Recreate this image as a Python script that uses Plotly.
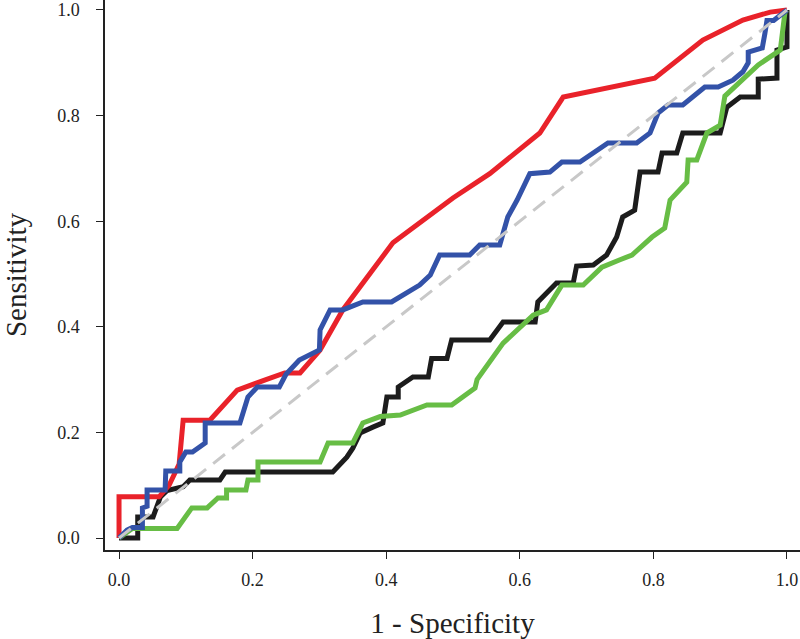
import plotly.graph_objects as go

red_x = [0, 0, 0.06, 0.075, 0.09, 0.096, 0.136, 0.177, 0.22, 0.248, 0.271, 0.301, 0.335, 0.41, 0.5, 0.555, 0.63, 0.665, 0.802, 0.874, 0.934, 0.975, 1.0]
red_y = [0, 0.078, 0.078, 0.1, 0.14, 0.223, 0.223, 0.28, 0.30, 0.3125, 0.3125, 0.356, 0.432, 0.559, 0.644, 0.69, 0.767, 0.835, 0.871, 0.943, 0.981, 0.996, 1.0]

blue_x = [0, 0.012, 0.02, 0.035, 0.035, 0.042, 0.042, 0.069, 0.07, 0.091, 0.091, 0.1, 0.11, 0.129, 0.129, 0.181, 0.193, 0.207, 0.24, 0.25, 0.27, 0.3, 0.301, 0.316, 0.335, 0.365, 0.408, 0.45, 0.466, 0.48, 0.525, 0.54, 0.57, 0.575, 0.582, 0.596, 0.615, 0.645, 0.663, 0.69, 0.732, 0.775, 0.795, 0.807, 0.822, 0.844, 0.877, 0.897, 0.919, 0.934, 0.942, 0.942, 0.963, 0.967, 0.97, 0.98, 1.0]
blue_y = [0, 0.015, 0.02, 0.02, 0.057, 0.06, 0.091, 0.091, 0.127, 0.127, 0.144, 0.163, 0.163, 0.18, 0.218, 0.218, 0.267, 0.286, 0.286, 0.31, 0.337, 0.356, 0.394, 0.432, 0.432, 0.447, 0.447, 0.479, 0.498, 0.536, 0.536, 0.555, 0.555, 0.578, 0.608, 0.64, 0.69, 0.693, 0.712, 0.712, 0.748, 0.748, 0.767, 0.805, 0.82, 0.82, 0.854, 0.854, 0.867, 0.883, 0.9, 0.92, 0.928, 0.956, 0.98, 0.98, 1.0]

black_x = [0, 0.028, 0.028, 0.051, 0.062, 0.072, 0.096, 0.106, 0.151, 0.159, 0.32, 0.341, 0.35, 0.361, 0.38, 0.395, 0.401, 0.418, 0.418, 0.44, 0.463, 0.468, 0.491, 0.498, 0.555, 0.575, 0.623, 0.627, 0.655, 0.68, 0.685, 0.71, 0.73, 0.745, 0.754, 0.772, 0.78, 0.807, 0.813, 0.835, 0.844, 0.9, 0.91, 0.93, 0.957, 0.957, 0.985, 0.985, 1.0, 1.0]
black_y = [0, 0, 0.04, 0.04, 0.078, 0.09, 0.097, 0.11, 0.11, 0.125, 0.125, 0.153, 0.17, 0.199, 0.21, 0.218, 0.267, 0.267, 0.286, 0.305, 0.305, 0.34, 0.34, 0.375, 0.375, 0.409, 0.409, 0.447, 0.483, 0.483, 0.515, 0.517, 0.536, 0.57, 0.608, 0.621, 0.693, 0.693, 0.729, 0.729, 0.767, 0.767, 0.816, 0.835, 0.835, 0.869, 0.871, 0.924, 0.93, 1.0]

green_x = [0, 0.02, 0.087, 0.109, 0.132, 0.148, 0.161, 0.161, 0.19, 0.193, 0.208, 0.208, 0.301, 0.313, 0.35, 0.365, 0.391, 0.421, 0.461, 0.498, 0.533, 0.536, 0.575, 0.596, 0.62, 0.64, 0.663, 0.695, 0.723, 0.75, 0.768, 0.798, 0.817, 0.825, 0.85, 0.852, 0.865, 0.88, 0.9, 0.907, 0.93, 0.957, 0.99, 0.997, 1.0]
green_y = [0, 0.018, 0.018, 0.057, 0.057, 0.076, 0.076, 0.091, 0.091, 0.11, 0.11, 0.144, 0.144, 0.18, 0.18, 0.218, 0.23, 0.233, 0.252, 0.252, 0.284, 0.3, 0.369, 0.394, 0.422, 0.432, 0.479, 0.479, 0.513, 0.527, 0.536, 0.57, 0.587, 0.64, 0.674, 0.716, 0.716, 0.767, 0.782, 0.837, 0.864, 0.896, 0.924, 0.996, 1.0]

diag_x = [0, 1]
diag_y = [0, 1]

x_ticks = [0.0, 0.2, 0.4, 0.6, 0.8, 1.0]
y_ticks = [0.0, 0.2, 0.4, 0.6, 0.8, 1.0]
tick_text = ["0.0", "0.2", "0.4", "0.6", "0.8", "1.0"]

fig = go.Figure()
series = [
    (black_x, black_y, "#1c1c1c"),
    (green_x, green_y, "#67bd45"),
    (red_x, red_y, "#e9222a"),
    (blue_x, blue_y, "#3352a8"),
]
for xs, ys, c in series:
    fig.add_trace(go.Scatter(x=xs, y=ys, mode="lines",
                             line=dict(color=c, width=5), showlegend=False))
fig.add_trace(go.Scatter(x=diag_x, y=diag_y, mode="lines",
                         line=dict(color="#c8c8c8", width=3, dash="15px,9px"),
                         showlegend=False))

font_family = "Liberation Serif, Times New Roman, serif"
fig.update_layout(
    width=800, height=639,
    margin=dict(l=105, r=0, t=0, b=89),
    paper_bgcolor="white", plot_bgcolor="white",
    font=dict(family=font_family, color="#222222", size=18),
    xaxis=dict(range=[-0.021, 1.0195], tickvals=x_ticks, ticktext=tick_text,
               automargin=False,
               showgrid=False, zeroline=False, showline=True, linecolor="#222222",
               linewidth=1.5, ticks="outside", ticklen=7, tickcolor="#222222",
               tickfont=dict(size=18, family=font_family), ticklabelstandoff=6,
               title=dict(text="1 - Specificity", font=dict(size=29, family=font_family), standoff=25)),
    yaxis=dict(range=[-0.0227, 1.0189], tickvals=y_ticks, ticktext=tick_text,
               automargin=False,
               showgrid=False, zeroline=False, showline=True, linecolor="#222222",
               linewidth=1.5, ticks="outside", ticklen=7, tickcolor="#222222",
               tickfont=dict(size=18, family=font_family), ticklabelstandoff=13,
               title=dict(text="Sensitivity", font=dict(size=29, family=font_family), standoff=22)),
)
fig.write_html("out.html", config={"displayModeBar": False},
               post_script="document.body.style.margin='0';")
